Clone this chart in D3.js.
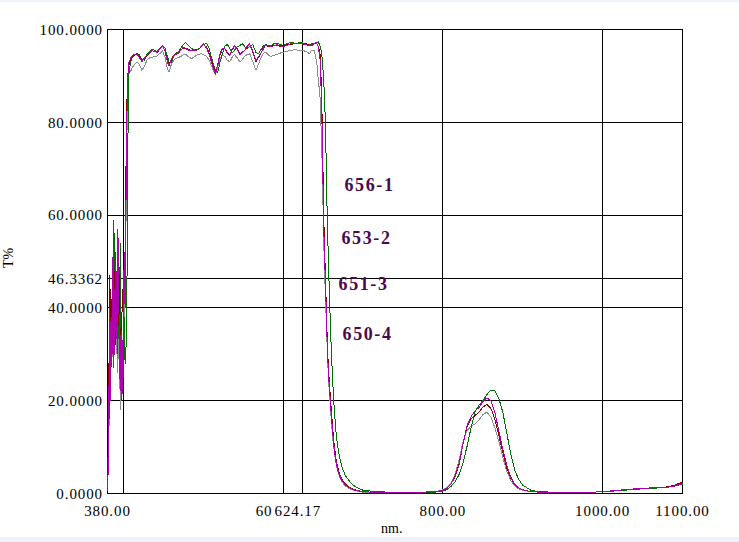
<!DOCTYPE html>
<html>
<head>
<meta charset="utf-8">
<script src="https://cdn.jsdelivr.net/npm/d3@7/dist/d3.min.js"></script>
<style>
  html, body { margin: 0; padding: 0; background: #fff; }
  svg { display: block; }
  text { font-family: "Liberation Serif", "DejaVu Serif", serif; }
</style>
</head>
<body>
<div id="chart"></div>
<script>
// wavelength grid (nm), shared by the four scans
const wavelengths = [
  380, 381, 382, 383, 384, 385, 386, 387, 388, 389, 390, 391, 392, 393, 394, 395, 396, 397, 398, 399,
  400, 401, 402, 403, 404, 405, 406, 407,
  409, 411, 414, 417, 420, 423, 426, 430, 433, 436, 439, 442, 446, 449, 452, 455, 457, 460, 463, 466,
  469, 472, 475, 478, 481, 485, 488, 491, 494, 497, 500, 504, 507, 511, 515, 518, 521, 524, 527, 530,
  533, 536, 539, 542, 546, 549, 552, 555, 558, 562, 566, 569, 572, 575, 578, 581, 584, 588, 592, 596,
  600, 605, 609, 613, 617, 621, 625, 629, 633, 636, 639, 642, 644,
  646, 647, 648, 649, 650, 651, 652, 653, 654, 655, 656, 657, 658, 659, 660, 662, 664, 666, 668, 671,
  674, 678, 684, 690, 700,
  710, 730, 760, 790, 800,
  805, 810, 815, 820, 825, 830, 835, 840, 845, 850, 855, 860, 865, 870, 875, 880, 885, 890, 895, 900,
  910, 920,
  950, 980, 1000, 1020, 1040, 1060, 1080, 1090, 1100
];

// T% per scan
const t656_1 = [
  0.5, 8, 17, 22, 35, 28, 48, 40, 59, 42, 52, 35, 44, 30, 50, 38, 54, 28, 22, 30,
  25, 38, 28, 30, 38, 58, 86, 91,
  93.0, 94.0, 94.6, 94.8, 94.5, 93.6, 93.4, 94.8, 95.3, 95.8, 95.5, 95.3, 95.9, 96.6, 96.0, 94.2, 93.0, 92.8, 94.3, 94.9,
  95.2, 96.0, 96.8, 97.2, 96.6, 96.0, 95.6, 95.7, 95.8, 96.2, 96.7, 97.0, 96.0, 93.5, 91.2, 90.8, 93.0, 94.8, 96.4, 96.8,
  96.0, 95.0, 95.5, 96.2, 96.6, 96.9, 96.3, 95.8, 96.4, 96.7, 95.0, 94.8, 95.6, 96.4, 96.8, 96.6, 96.5, 96.9, 97.0, 96.8,
  96.6, 97.0, 97.2, 97.1, 97.0, 97.3, 97.1, 96.9, 96.8, 96.9, 97.0, 97.2, 97.3,
  96.5, 96, 95, 93.5, 91, 88, 84, 79, 70, 61, 54, 48, 42, 37, 32, 24, 18, 13.5, 10.5, 7.5,
  5.5, 3.8, 2.4, 1.5, 0.7,
  0.5, 0.3, 0.2, 0.3, 0.5,
  0.9, 1.5, 2.5, 4.0, 6.5, 10.0, 14.0, 17.5, 19.0, 20.0, 21.3, 22.3, 22.2, 20.5, 17.5, 13.0, 8.5, 5.0, 3.0, 1.8,
  0.7, 0.4,
  0.2, 0.2, 0.4, 0.6, 0.9, 1.1, 1.3, 1.6, 2.0
];
const t653_2 = [
  1, 12, 30, 47, 26, 42, 33, 50, 36, 48, 32, 45, 38, 52, 36, 47, 30, 25, 38, 44,
  33, 46, 50, 68, 82, 89, 91.5, 92.5,
  93.6, 94.2, 94.5, 94.8, 94.2, 93.2, 93.6, 94.5, 95.1, 95.4, 95.3, 95.0, 95.9, 96.4, 95.5, 93.3, 92.4, 93.5, 94.5, 94.6,
  95.1, 95.6, 96.0, 96.0, 95.7, 95.5, 95.4, 95.5, 95.7, 96.2, 96.8, 96.2, 95.0, 92.8, 90.8, 92.3, 94.6, 95.8, 95.9, 95.0,
  94.6, 95.6, 96.4, 96.0, 94.8, 95.2, 95.5, 96.2, 96.8, 95.3, 93.0, 94.0, 94.8, 95.8, 96.6, 96.4, 96.4, 96.5, 96.6, 96.4,
  96.5, 96.7, 96.8, 96.9, 97.1, 97.0, 96.8, 96.9, 96.6, 96.6, 96.9, 97.0, 96.4,
  95, 92, 86, 79, 68, 58, 52, 46, 40, 34, 29.5, 26, 23.5, 21, 18.5, 14, 10.2, 7.6, 5.8, 4,
  2.9, 2, 1.2, 0.8, 0.4,
  0.3, 0.2, 0.2, 0.4, 0.7,
  1.2, 2.0, 3.6, 6.2, 10.5, 14.3, 16.0, 16.8, 17.5, 18.6, 19.2, 18.4, 16.0, 12.5, 8.8, 5.5, 3.3, 1.9, 1.2, 0.8,
  0.4, 0.3,
  0.2, 0.2, 0.4, 0.7, 1.0, 1.2, 1.4, 1.8, 2.5
];
const t651_3 = [
  0.5, 6, 25, 40, 20, 38, 30, 53, 27, 44, 35, 48, 32, 57, 45, 30, 22, 35, 20, 28,
  40, 52, 40, 60, 78, 88, 91.5, 93,
  93.8, 94.4, 94.7, 94.6, 94.0, 93.0, 93.8, 94.6, 95.0, 95.5, 95.2, 95.1, 95.8, 96.5, 95.3, 93.0, 92.2, 93.6, 94.4, 94.8,
  94.9, 95.6, 96.2, 95.9, 95.6, 95.4, 95.5, 95.6, 95.6, 96.3, 96.9, 96.0, 94.8, 92.5, 90.4, 92.5, 94.8, 96.0, 95.8, 94.8,
  94.4, 95.8, 96.5, 95.8, 94.6, 95.0, 95.6, 96.4, 96.9, 95.0, 93.3, 94.2, 94.8, 96.0, 96.7, 96.5, 96.3, 96.5, 96.7, 96.5,
  96.3, 96.6, 96.9, 97.0, 97.0, 96.9, 96.9, 96.7, 96.5, 96.7, 97.0, 97.1, 96.2,
  94, 90, 84, 77, 65, 56, 50, 45, 39, 33, 28.5, 25, 22.5, 20, 17.5, 13, 9.5, 7, 5.3, 3.7,
  2.7, 1.8, 1.1, 0.7, 0.4,
  0.3, 0.2, 0.2, 0.4, 0.7,
  1.2, 2.0, 3.5, 6.0, 10.5, 14.5, 16.5, 17.8, 18.5, 19.8, 20.6, 20.0, 17.5, 13.5, 9.5, 6.0, 3.5, 2.0, 1.2, 0.8,
  0.4, 0.3,
  0.2, 0.2, 0.4, 0.7, 1.0, 1.2, 1.3, 1.6, 2.2
];
const t650_4 = [
  0.5, 10, 15, 36, 28, 32, 44, 28, 46, 38, 47, 30, 45, 26, 43, 32, 18, 29, 35, 22,
  41, 30, 44, 55, 74, 84, 89, 90.5,
  91.0, 91.8, 92.5, 93.0, 92.4, 91.2, 92.0, 93.6, 93.9, 94.0, 94.2, 94.3, 94.9, 95.4, 94.0, 91.5, 90.8, 92.5, 93.4, 93.8,
  94.0, 94.2, 94.6, 94.6, 94.2, 93.7, 94.0, 94.4, 94.6, 94.8, 94.6, 94.2, 93.5, 91.8, 90.3, 91.8, 93.7, 94.4, 94.2, 93.4,
  93.0, 94.0, 94.6, 94.0, 93.0, 93.6, 94.3, 94.6, 94.8, 93.0, 91.2, 92.5, 93.8, 94.8, 95.1, 94.6, 94.2, 94.4, 94.6, 94.9,
  95.1, 95.3, 95.5, 95.6, 95.6, 95.5, 95.5, 95.2, 94.8, 95.6, 95.4, 93.0, 89.0,
  86, 81, 76, 70, 61, 53, 47, 42, 37, 32, 27.5, 24, 21.5, 19, 16.5, 12, 9, 6.6, 5, 3.4,
  2.4, 1.6, 0.9, 0.6, 0.3,
  0.2, 0.2, 0.2, 0.4, 0.8,
  1.3, 2.2, 4.0, 7.0, 11.0, 13.5, 14.5, 15.0, 15.8, 17.0, 17.5, 16.5, 14.2, 11.2, 7.8, 4.8, 2.8, 1.6, 1.0, 0.7,
  0.4, 0.3,
  0.2, 0.2, 0.4, 0.7, 1.0, 1.2, 1.4, 1.7, 2.3
];

const sampleNames = ['656-1', '653-2', '651-3', '650-4'];
const yTicks = [0, 20, 40, 60, 80, 100];
const yMarker = 46.3362;
const xTicks = [380, 800, 1000, 1100];
const xGrid = [400, 600, 624.17, 800, 1000];
const xMarker = 624.17;

const width = 739, height = 542;
const plot = { left: 107.5, right: 682.5, top: 29.5, bottom: 493.5 };

const svg = d3.select('#chart').append('svg')
  .attr('width', width)
  .attr('height', height)
  .attr('viewBox', [0, 0, width, height]);

// window strips top / bottom
svg.append('rect').attr('x', 0).attr('y', 0).attr('width', width).attr('height', 2).attr('fill', '#eef2fa');
svg.append('rect').attr('x', 0).attr('y', 537).attr('width', width).attr('height', 5).attr('fill', '#eef2fa');

const x = d3.scaleLinear().domain([380, 1100]).range([plot.left, plot.right]);
const y = d3.scaleLinear().domain([0, 100]).range([plot.bottom, plot.top]);
const snap = v => Math.floor(v) + 0.5;

const grid = svg.append('g')
  .attr('stroke', '#000')
  .attr('stroke-width', 1)
  .attr('shape-rendering', 'crispEdges');

grid.selectAll('.hgrid')
  .data(yTicks.slice(1, -1).concat([yMarker]))
  .enter().append('line')
  .attr('class', 'hgrid')
  .attr('x1', plot.left).attr('x2', plot.right)
  .attr('y1', d => snap(y(d))).attr('y2', d => snap(y(d)));

grid.selectAll('.vgrid')
  .data(xGrid)
  .enter().append('line')
  .attr('class', 'vgrid')
  .attr('y1', plot.top).attr('y2', plot.bottom)
  .attr('x1', d => snap(x(d))).attr('x2', d => snap(x(d)));

grid.append('rect')
  .attr('x', plot.left).attr('y', plot.top)
  .attr('width', plot.right - plot.left)
  .attr('height', plot.bottom - plot.top)
  .attr('fill', 'none');

// y labels
const fmtY = d3.format('.4f');
svg.append('g').selectAll('text')
  .data(yTicks.concat([yMarker]))
  .enter().append('text')
  .attr('x', 103)
  .attr('y', d => y(d))
  .attr('dy', '0.35em')
  .attr('text-anchor', 'end')
  .attr('font-size', 15)
  .attr('letter-spacing', 0.9)
  .attr('fill', '#000')
  .text(d => fmtY(d));

// x labels
const fmtX = d3.format('.2f');
const xLab = svg.append('g')
  .attr('font-size', 15)
  .attr('letter-spacing', 0.9)
  .attr('fill', '#000');

xLab.selectAll('.xt')
  .data(xTicks)
  .enter().append('text')
  .attr('class', 'xt')
  .attr('x', d => x(d))
  .attr('y', 516)
  .attr('text-anchor', 'middle')
  .text(d => fmtX(d));

// the 600.00 label is mostly hidden under the cursor readout: only "60" shows
const mkStart = x(xMarker) - 28;
svg.append('clipPath').attr('id', 'cut600')
  .append('rect').attr('x', 250).attr('y', 500).attr('width', mkStart - 252).attr('height', 20);
xLab.append('text')
  .attr('x', mkStart - 2)
  .attr('y', 516)
  .attr('text-anchor', 'end')
  .attr('clip-path', 'url(#cut600)')
  .text(fmtX(600).slice(0, 2));
xLab.append('text')
  .attr('x', mkStart)
  .attr('y', 516)
  .text(fmtX(xMarker));

svg.append('text')
  .attr('x', 381).attr('y', 533)
  .attr('font-size', 14)
  .text('nm.');

svg.append('text')
  .attr('transform', 'translate(13,258) rotate(-90)')
  .attr('text-anchor', 'middle')
  .attr('font-size', 14)
  .text('T%');

// curves
const scans = [
  { name: sampleNames[3], values: t650_4, color: '#8c8c8c' },
  { name: sampleNames[0], values: t656_1, color: '#007000' },
  { name: sampleNames[1], values: t653_2, color: '#8c0000' },
  { name: sampleNames[2], values: t651_3, color: '#b000b0' }
];

const line = d3.line()
  .x((d, i) => x(wavelengths[i]))
  .y(d => y(d));

svg.append('g').selectAll('path')
  .data(scans)
  .enter().append('path')
  .attr('d', d => line(d.values))
  .attr('fill', 'none')
  .attr('stroke', d => d.color)
  .attr('stroke-width', 1)
  .attr('shape-rendering', 'crispEdges');

// sample labels
const labelAt = [[676.8, 65.1], [673.0, 53.7], [669.3, 43.8], [674.3, 33.0]];
svg.append('g').selectAll('text')
  .data(sampleNames)
  .enter().append('text')
  .attr('x', (d, i) => x(labelAt[i][0]))
  .attr('y', (d, i) => y(labelAt[i][1]))
  .attr('font-size', 18)
  .attr('font-weight', 'bold')
  .attr('letter-spacing', 1.6)
  .attr('fill', '#4a0a4a')
  .text(d => d);
</script>
</body>
</html>
